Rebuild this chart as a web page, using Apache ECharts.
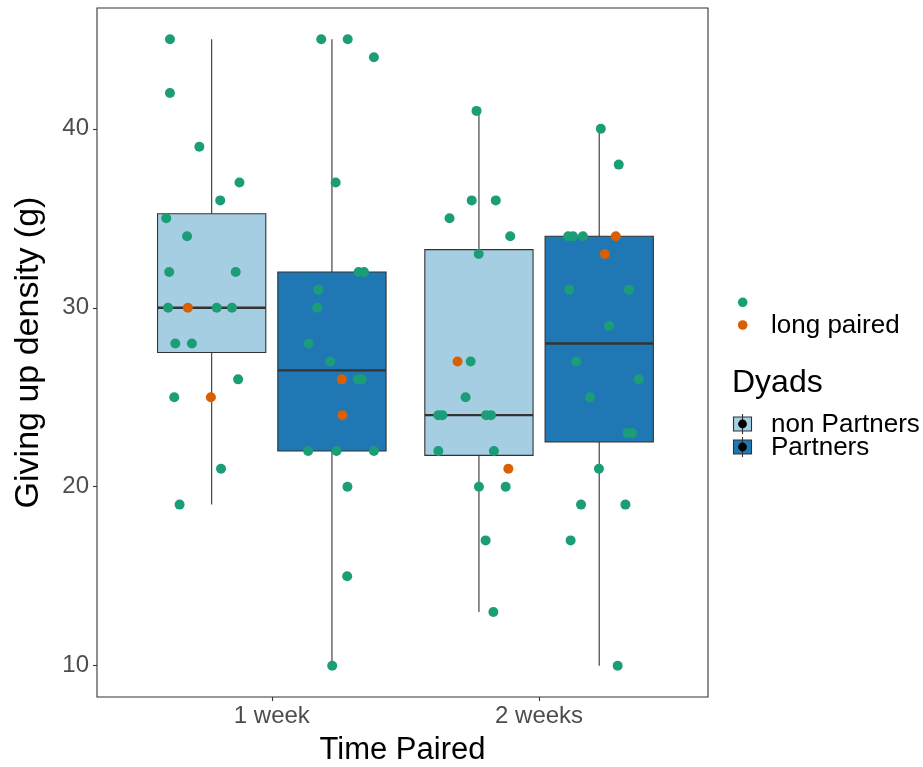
<!DOCTYPE html>
<html>
<head>
<meta charset="utf-8">
<title>Giving up density by time paired</title>
<script src="https://cdn.jsdelivr.net/npm/echarts@6/dist/echarts.min.js"></script>
<style>
  html, body { margin: 0; padding: 0; background: #ffffff; }
  #chart { width: 923px; height: 767px; }
</style>
</head>
<body>
<div id="chart"></div>
<script>
// Time-paired categories shown on the x axis (positions 1 and 2)
const timeCategories = ['1 week', '2 weeks'];
// Dyad groups (box fill per group)
const dyadNames = ['non Partners', 'Partners'];
// Point kinds for the colour legend ('' = unlabelled, 'long paired')
const pointKinds = ['', 'long paired'];
const yTicks = [10, 20, 30, 40];

// Observations per box: jittered x position, giving-up density, kind (0 = '', 1 = long paired)
const week1NonX = [0.619, 0.619, 0.729, 0.879, 0.807, 0.605, 0.683, 0.616, 0.865, 0.612, 0.686, 0.794, 0.851, 0.639, 0.701, 0.874, 0.635, 0.772, 0.810, 0.655];
const week1NonY = [45, 42, 39, 37, 36, 35, 34, 32, 32, 30, 30, 30, 30, 28, 28, 26, 25, 25, 21, 19];
const week1NonK = [0, 0, 0, 0, 0, 0, 0, 0, 0, 0, 1, 0, 0, 0, 0, 0, 0, 1, 0, 0];

const week1ParX = [1.185, 1.284, 1.382, 1.239, 1.325, 1.345, 1.174, 1.170, 1.138, 1.219, 1.262, 1.322, 1.337, 1.264, 1.136, 1.242, 1.382, 1.283, 1.282, 1.226];
const week1ParY = [45, 45, 44, 37, 32, 32, 31, 30, 28, 27, 26, 26, 26, 24, 22, 22, 22, 20, 15, 10];
const week1ParK = [0, 0, 0, 0, 0, 0, 0, 0, 0, 0, 1, 0, 0, 1, 0, 0, 0, 0, 0, 0];

const week2NonX = [1.766, 1.748, 1.838, 1.665, 1.892, 1.774, 1.695, 1.744, 1.725, 1.623, 1.638, 1.802, 1.820, 1.623, 1.831, 1.885, 1.775, 1.875, 1.800, 1.829];
const week2NonY = [41, 36, 36, 35, 34, 33, 27, 27, 25, 24, 24, 24, 24, 22, 22, 21, 20, 20, 17, 13];
const week2NonK = [0, 0, 0, 0, 0, 0, 1, 0, 0, 0, 0, 0, 0, 0, 0, 1, 0, 0, 0, 0];

const week2ParX = [2.231, 2.298, 2.109, 2.127, 2.164, 2.287, 2.246, 2.113, 2.336, 2.262, 2.139, 2.373, 2.190, 2.331, 2.348, 2.224, 2.157, 2.323, 2.118, 2.294];
const week2ParY = [40, 38, 34, 34, 34, 34, 33, 31, 31, 29, 27, 26, 25, 23, 23, 21, 19, 19, 17, 10];
const week2ParK = [0, 0, 0, 0, 0, 1, 1, 0, 0, 0, 0, 0, 0, 0, 0, 0, 0, 0, 0, 0];

const groups = [
  { time: 1, dyad: 0, xs: week1NonX, ys: week1NonY, ks: week1NonK },
  { time: 1, dyad: 1, xs: week1ParX, ys: week1ParY, ks: week1ParK },
  { time: 2, dyad: 0, xs: week2NonX, ys: week2NonY, ks: week2NonK },
  { time: 2, dyad: 1, xs: week2ParX, ys: week2ParY, ks: week2ParK }
];

const boxFill = ['#A6CEE3', '#1F78B4'];
const pointColor = ['#1B9E77', '#D95F02'];
const lineColor = '#333333';
const FONT = "'Liberation Sans', Arial, sans-serif";
const DODGE = 0.225;     // half distance between dodged boxes
const BOX_W = 0.405;     // box width in x units

// Quantile (linear interpolation between order statistics)
function quantile(sorted, p) {
  const h = (sorted.length - 1) * p;
  const lo = Math.floor(h), hi = Math.ceil(h);
  return sorted[lo] + (h - lo) * (sorted[hi] - sorted[lo]);
}

// Five-number summary with 1.5 IQR whiskers
const boxData = groups.map(g => {
  const s = g.ys.slice().sort((a, b) => a - b);
  const q1 = quantile(s, 0.25), med = quantile(s, 0.5), q3 = quantile(s, 0.75);
  const iqr = q3 - q1;
  const lo = Math.min(...s.filter(v => v >= q1 - 1.5 * iqr));
  const hi = Math.max(...s.filter(v => v <= q3 + 1.5 * iqr));
  const cx = g.time + (g.dyad === 0 ? -DODGE : DODGE);
  return [cx, q1, med, q3, lo, hi, g.dyad];
});

// Points split by kind
const pointsByKind = pointKinds.map((_, k) => {
  const out = [];
  groups.forEach(g => g.ys.forEach((y, i) => { if (g.ks[i] === k) out.push([g.xs[i], y]); }));
  return out;
});

const chart = echarts.init(document.getElementById('chart'), null, { renderer: 'canvas' });

const GRID = { left: 97, top: 8, width: 611, height: 689 };

function renderBox(params, api) {
  const x = api.value(0);
  const q1 = api.value(1), med = api.value(2), q3 = api.value(3);
  const lo = api.value(4), hi = api.value(5), k = api.value(6);
  const half = BOX_W / 2;
  const tl = api.coord([x - half, q3]);
  const br = api.coord([x + half, q1]);
  const mL = api.coord([x - half, med]);
  const mR = api.coord([x + half, med]);
  const pHi = api.coord([x, hi]);
  const pLo = api.coord([x, lo]);
  const pQ3 = api.coord([x, q3]);
  const pQ1 = api.coord([x, q1]);
  return {
    type: 'group',
    children: [
      { type: 'line', shape: { x1: pHi[0], y1: pHi[1], x2: pQ3[0], y2: pQ3[1] }, style: { stroke: lineColor, lineWidth: 1.1 } },
      { type: 'line', shape: { x1: pQ1[0], y1: pQ1[1], x2: pLo[0], y2: pLo[1] }, style: { stroke: lineColor, lineWidth: 1.1 } },
      { type: 'rect', shape: { x: tl[0], y: tl[1], width: br[0] - tl[0], height: br[1] - tl[1] }, style: { fill: boxFill[k], stroke: lineColor, lineWidth: 1.1 } },
      { type: 'line', shape: { x1: mL[0], y1: mL[1], x2: mR[0], y2: mR[1] }, style: { stroke: lineColor, lineWidth: 2.4 } }
    ]
  };
}

// Legend drawn as graphic elements (two legends: point kinds and dyads)
const legendGraphics = [
  { type: 'circle', shape: { cx: 742.7, cy: 302.3, r: 4.8 }, style: { fill: pointColor[0] } },
  { type: 'circle', shape: { cx: 742.7, cy: 325, r: 4.8 }, style: { fill: pointColor[1] } },
  { type: 'text', x: 771, y: 326, style: { text: pointKinds[1], font: '26px ' + FONT, fill: '#000', verticalAlign: 'middle' } },
  { type: 'text', x: 732, y: 383, style: { text: 'Dyads', font: '32px ' + FONT, fill: '#000', verticalAlign: 'middle' } }
];
[424, 447].forEach((cy, k) => {
  legendGraphics.push(
    { type: 'line', shape: { x1: 742.5, y1: cy - 10, x2: 742.5, y2: cy + 10 }, style: { stroke: lineColor, lineWidth: 1.1 } },
    { type: 'rect', shape: { x: 733.5, y: cy - 7, width: 18, height: 14 }, style: { fill: boxFill[k], stroke: lineColor, lineWidth: 1.1 } },
    { type: 'line', shape: { x1: 742.5, y1: cy - 7, x2: 742.5, y2: cy + 7 }, style: { stroke: lineColor, lineWidth: 1.1 } },
    { type: 'circle', shape: { cx: 742.5, cy: cy, r: 4.4 }, style: { fill: '#000' } },
    { type: 'text', x: 771, y: cy + 1, style: { text: dyadNames[k], font: '26px ' + FONT, fill: '#000', verticalAlign: 'middle' } }
  );
});

const option = {
  animation: false,
  backgroundColor: '#ffffff',
  textStyle: { fontFamily: FONT },
  grid: Object.assign({ show: true, borderColor: lineColor, borderWidth: 1.1, backgroundColor: 'transparent', outerBoundsMode: 'none', containLabel: false }, GRID),
  xAxis: {
    type: 'value',
    min: 0.346,
    max: 2.632,
    axisLine: { show: false },
    splitLine: { show: false },
    axisTick: { show: true, customValues: [1, 2], length: 4, lineStyle: { color: lineColor, width: 1.1 } },
    axisLabel: {
      customValues: [1, 2],
      formatter: v => timeCategories[Math.round(v) - 1],
      fontSize: 24, color: '#4D4D4D', margin: 7, fontFamily: FONT
    },
    name: 'Time Paired',
    nameLocation: 'middle',
    nameGap: 38,
    nameTextStyle: { fontSize: 31, color: '#000', fontFamily: FONT }
  },
  yAxis: {
    type: 'value',
    min: 8.25,
    max: 46.75,
    axisLine: { show: false },
    splitLine: { show: false },
    axisTick: { show: true, customValues: yTicks, length: 4, lineStyle: { color: lineColor, width: 1.1 } },
    axisLabel: { customValues: yTicks, fontSize: 24, color: '#4D4D4D', margin: 8, fontFamily: FONT },
    name: 'Giving up density (g)',
    nameLocation: 'middle',
    nameGap: 51,
    nameTextStyle: { fontSize: 34, color: '#000', fontFamily: FONT }
  },
  series: [
    {
      type: 'custom',
      name: 'Dyads',
      renderItem: renderBox,
      data: boxData,
      encode: { x: 0, y: [1, 2, 3, 4, 5] },
      z: 2,
      silent: true
    },
    {
      type: 'scatter',
      name: pointKinds[0],
      data: pointsByKind[0],
      symbol: 'circle',
      symbolSize: 10,
      itemStyle: { color: pointColor[0], opacity: 1 },
      z: 3,
      silent: true
    },
    {
      type: 'scatter',
      name: pointKinds[1],
      data: pointsByKind[1],
      symbol: 'circle',
      symbolSize: 10,
      itemStyle: { color: pointColor[1], opacity: 1 },
      z: 4,
      silent: true
    }
  ],
  graphic: legendGraphics
};

chart.setOption(option);
</script>
</body>
</html>
